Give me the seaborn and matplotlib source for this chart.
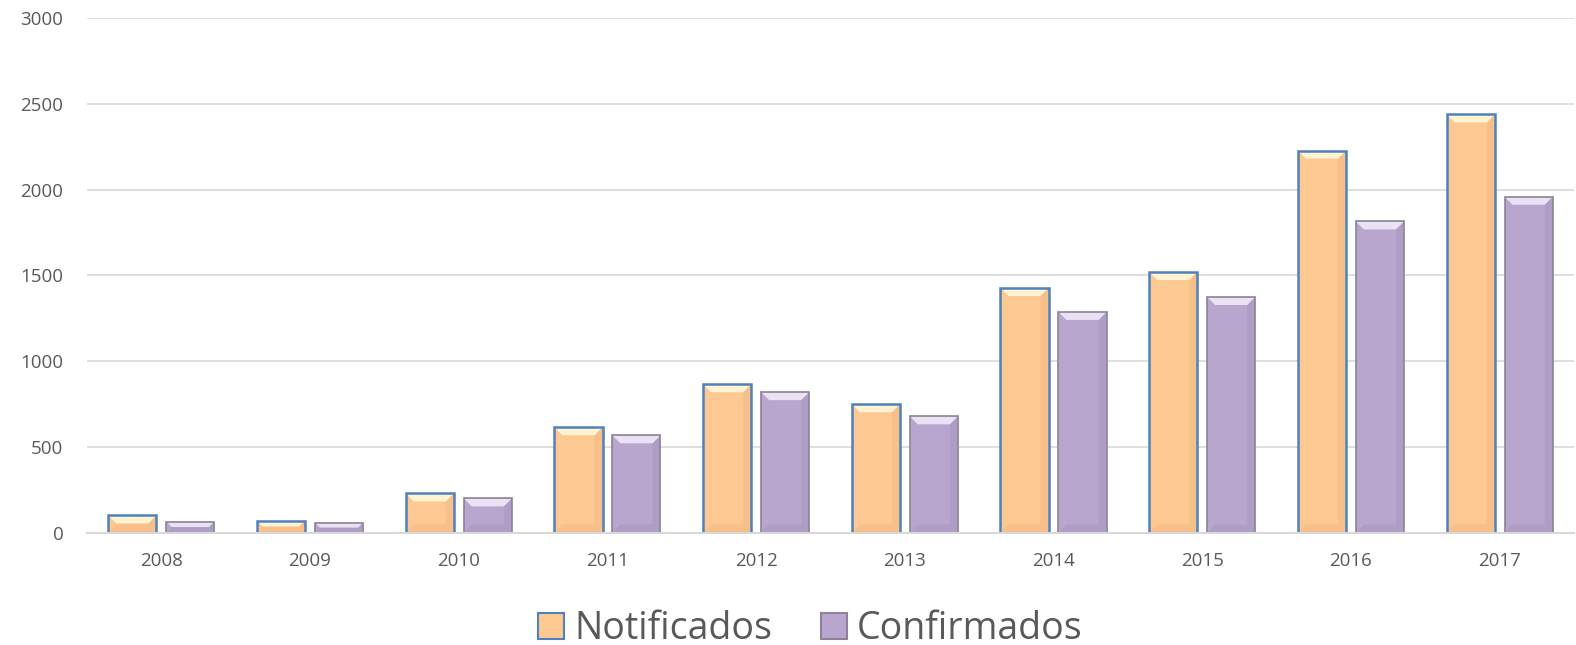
import numpy as np
import pandas as pd
import matplotlib
matplotlib.use("Agg")
import matplotlib.pyplot as plt
import seaborn as sns
from matplotlib.patches import Polygon, Patch

years = ["2008", "2009", "2010", "2011", "2012", "2013", "2014", "2015", "2016", "2017"]
notificados = [100, 70, 228, 614, 865, 748, 1427, 1520, 2228, 2439]
confirmados = [64, 58, 199, 567, 819, 678, 1287, 1374, 1815, 1959]
series_names = ["Notificados", "Confirmados"]
y_ticks = [0, 500, 1000, 1500, 2000, 2500, 3000]

df = pd.DataFrame({
    "Ano": years * 2,
    "Valor": notificados + confirmados,
    "Serie": [series_names[0]] * len(years) + [series_names[1]] * len(years),
})

sns.set_style("white")
plt.rcParams['font.family'] = ['Open Sans', 'DejaVu Sans']

fills = {"Notificados": "#FEC893", "Confirmados": "#B8A6CF"}
edges = {"Notificados": "#4F81BD", "Confirmados": "#8A8494"}
lights = {"Notificados": "#FFF4D2", "Confirmados": "#EAE1F5"}
darks = {"Notificados": "#E8AC76", "Confirmados": "#9C8AB3"}

fig = plt.figure(figsize=(15.76, 6.45), dpi=100)
ax = fig.add_axes([0.0552, 0.1744, 0.9435, 0.7972])

sns.barplot(data=df, x="Ano", y="Valor", hue="Serie", palette=fills,
            width=0.78, gap=0.17, ax=ax, legend=False, saturation=1)

ax.set_xlim(-0.5, 9.5)
ax.set_ylim(0, 3000)
ax.set_yticks(y_ticks)
ax.yaxis.grid(True, color="#D9D9D9", linewidth=1.2)
ax.set_axisbelow(True)
for s in ["left", "right", "top"]:
    ax.spines[s].set_visible(False)
ax.spines["bottom"].set_color("#D9D9D9")
ax.spines["bottom"].set_linewidth(1.5)
ax.tick_params(axis="both", length=0, labelsize=13.5, labelcolor="#595959")
ax.tick_params(axis="x", pad=14)
ax.tick_params(axis="y", pad=17)
ax.set_xlabel("")
ax.set_ylabel("")

fig.canvas.draw()
inv = ax.transData.inverted()
n = len(years)
for i, p in enumerate(ax.patches[:2 * n]):
    serie = series_names[i // n]
    lw = 1.8 if serie == "Notificados" else 1.2
    p.set_edgecolor("none")
    x0, y0 = p.get_x(), p.get_y()
    x1, y1 = x0 + p.get_width(), y0 + p.get_height()
    (px0, py0) = ax.transData.transform((x0, y0))
    (px1, py1) = ax.transData.transform((x1, y1))
    b = min(8, (py1 - py0) / 2)
    def d(px, py):
        return inv.transform((px, py))
    z = p.get_zorder()
    top = [d(px0, py1), d(px1, py1), d(px1 - b, py1 - b), d(px0 + b, py1 - b)]
    bot = [d(px0, py0), d(px1, py0), d(px1 - b, py0 + b), d(px0 + b, py0 + b)]
    right = [d(px1, py0), d(px1, py1), d(px1 - b, py1 - b), d(px1 - b, py0 + b)]
    ax.add_patch(Polygon(right, closed=True, facecolor=darks[serie], edgecolor="none", zorder=z + 0.1, alpha=0.3))
    ax.add_patch(Polygon(bot, closed=True, facecolor=darks[serie], edgecolor="none", zorder=z + 0.1, alpha=0.3))
    ax.add_patch(Polygon(top, closed=True, facecolor=lights[serie], edgecolor="none", zorder=z + 0.15))
    ax.add_patch(Polygon([(x0, y0), (x1, y0), (x1, y1), (x0, y1)], closed=True, facecolor="none",
                         edgecolor=edges[serie], linewidth=lw, zorder=z + 0.2))

handles = [Patch(facecolor=fills[s], edgecolor=edges[s], linewidth=1.5) for s in series_names]
fig.legend(handles, series_names, loc="center", bbox_to_anchor=(0.514, 0.025), ncol=2,
           frameon=False, fontsize=27, handlelength=0.7, handleheight=0.7, handletextpad=0.27,
           columnspacing=1.3, labelcolor="#595959")

fig.savefig("out.png", dpi=100)
